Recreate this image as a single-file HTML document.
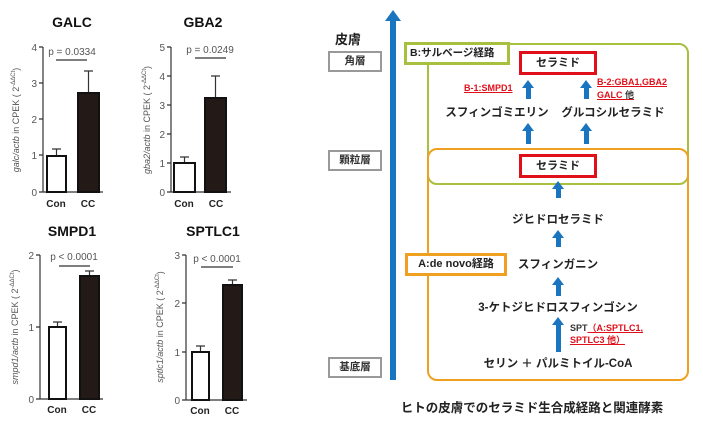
<!DOCTYPE html><html><head><meta charset="utf-8"><style>
body{margin:0;width:703px;height:428px;background:#fff;position:relative;overflow:hidden;font-family:"Liberation Sans","Noto Sans CJK JP",sans-serif}
.a{position:absolute;white-space:nowrap}
.t{font-weight:bold;color:#222;font-size:11.5px;transform:translateX(-50%)}
.lay{position:absolute;left:328px;width:50px;height:17px;border:2px solid #999;font-size:10.5px;font-weight:bold;text-align:center;line-height:17px;color:#333}
.red{position:absolute;left:519px;width:72px;height:18px;border:3px solid #e0101a;font-size:11px;font-weight:bold;text-align:center;line-height:18px;color:#222}
.ar{position:absolute;width:5px;background:#1a75c0}
.ar:before{content:"";position:absolute;left:-4px;top:-7px;border-left:6.5px solid transparent;border-right:6.5px solid transparent;border-bottom:8px solid #1a75c0}
.big:before{left:-5px;top:-10px;border-left:8px solid transparent;border-right:8px solid transparent;border-bottom:11px solid #1a75c0}
.r{color:#e0101a;text-decoration:underline;font-weight:bold;font-size:9px}
</style></head><body>
<svg width="320" height="428" style="position:absolute;left:0;top:0" font-family="Liberation Sans" fill="#333">
<g font-weight="bold" font-size="14" text-anchor="middle" fill="#111">
<text x="72" y="27">GALC</text><text x="203" y="27">GBA2</text><text x="72" y="236">SMPD1</text><text x="213" y="236">SPTLC1</text></g>
<g stroke="#333" stroke-width="1.2" fill="none">
<path d="M43 47V192H103M39 47H43M39 83H43M39 119H43M39 155H43M39 192H43"/>
<path d="M56 60H87M56.5 156V149M52 149H61M88.5 93V71M84 71H93"/>
<path d="M171 47V192H231M167 47H171M167 76H171M167 105H171M167 134H171M167 163H171M167 192H171"/>
<path d="M195 58H226M184.5 163V157M180 157H189M215.5 98V76M211 76H220"/>
<path d="M40 255V399H103M36 255H40M36 327H40M36 399H40"/>
<path d="M59 266H90M57.5 327V322M53 322H62M89.5 276V271M85 271H94"/>
<path d="M186 255V400H247M182 255H186M182 303H186M182 352H186M182 400H186"/>
<path d="M201 267H233M200.5 352V346M196 346H205M232.5 285V280M228 280H237"/>
</g>
<g stroke="#111" stroke-width="2">
<rect x="47" y="156" width="19" height="36" fill="#fff"/><rect x="78" y="93" width="21" height="99" fill="#231a17"/>
<rect x="174" y="163" width="21" height="29" fill="#fff"/><rect x="205" y="98" width="21" height="94" fill="#231a17"/>
<rect x="49" y="327" width="17" height="72" fill="#fff"/><rect x="80" y="276" width="19" height="123" fill="#231a17"/>
<rect x="192" y="352" width="17" height="48" fill="#fff"/><rect x="223" y="285" width="19" height="115" fill="#231a17"/>
</g>
<g font-size="10" text-anchor="end" fill="#555">
<text x="37" y="51">4</text><text x="37" y="87">3</text><text x="37" y="123">2</text><text x="37" y="159">1</text><text x="37" y="196">0</text>
<text x="165" y="51">5</text><text x="165" y="80">4</text><text x="165" y="109">3</text><text x="165" y="138">2</text><text x="165" y="167">1</text><text x="165" y="196">0</text>
<text x="34" y="259">2</text><text x="34" y="331">1</text><text x="34" y="403">0</text>
<text x="180" y="259">3</text><text x="180" y="307">2</text><text x="180" y="356">1</text><text x="180" y="404">0</text>
</g>
<g font-size="10" text-anchor="middle" fill="#555">
<text x="72" y="55">p = 0.0334</text><text x="210" y="53">p = 0.0249</text><text x="74" y="260">p &lt; 0.0001</text><text x="217" y="262">p &lt; 0.0001</text></g>
<g font-size="10" font-weight="bold" text-anchor="middle" fill="#222">
<text x="56" y="207">Con</text><text x="88" y="207">CC</text><text x="184" y="207">Con</text><text x="216" y="207">CC</text>
<text x="57" y="413">Con</text><text x="89" y="413">CC</text><text x="200" y="414">Con</text><text x="232" y="414">CC</text></g>
<g font-size="9" fill="#555" text-anchor="middle">
<text transform="translate(19,120) rotate(-90)"><tspan font-style="italic">galc/actb</tspan> in CPEK ( 2<tspan dy="-4" font-size="6">-ΔΔCt</tspan><tspan dy="4">)</tspan></text>
<text transform="translate(150,120) rotate(-90)"><tspan font-style="italic">gba2/actb</tspan> in CPEK ( 2<tspan dy="-4" font-size="6">-ΔΔCt</tspan><tspan dy="4">)</tspan></text>
<text transform="translate(18,327) rotate(-90)"><tspan font-style="italic">smpd1/actb</tspan> in CPEK ( 2<tspan dy="-4" font-size="6">-ΔΔCt</tspan><tspan dy="4">)</tspan></text>
<text transform="translate(163,327) rotate(-90)"><tspan font-style="italic">sptlc1/actb</tspan> in CPEK ( 2<tspan dy="-4" font-size="6">-ΔΔCt</tspan><tspan dy="4">)</tspan></text>
</g></svg>

<div class="ar big" style="left:390px;top:20px;height:360px;width:6px"></div>
<div class="a" style="left:335px;top:29px;font-size:13px;font-weight:bold;color:#222">皮膚</div>
<div class="lay" style="top:51px">角層</div>
<div class="lay" style="top:150px">顆粒層</div>
<div class="lay" style="top:357px">基底層</div>

<div class="a" style="left:427px;top:43px;width:258px;height:138px;border:2px solid #a8c040;border-radius:10px"></div>
<div class="a" style="left:427px;top:148px;width:258px;height:229px;border:2px solid #f0a020;border-radius:10px"></div>
<div class="a" style="left:404px;top:42px;width:97px;height:17px;border:3px solid #a8c040;background:#fff;font-size:10.5px;line-height:17px;padding-left:3px;color:#222;font-weight:bold">B:サルベージ経路</div>
<div class="a" style="left:405px;top:253px;width:96px;height:17px;border:3px solid #f0a020;background:#fff;font-size:11px;line-height:17px;text-align:center;color:#222;font-weight:bold">A:de novo経路</div>

<div class="red" style="top:51px">セラミド</div>
<div class="red" style="top:154px">セラミド</div>

<div class="ar" style="left:526px;top:87px;height:12px"></div>
<div class="ar" style="left:584px;top:87px;height:12px"></div>
<div class="ar" style="left:526px;top:130px;height:14px"></div>
<div class="ar" style="left:584px;top:130px;height:14px"></div>
<div class="a r" style="left:464px;top:83px">B-1:SMPD1</div>
<div class="a r" style="left:597px;top:76px;line-height:13px">B-2:GBA1,GBA2<br>GALC <span style="color:#333;text-decoration:none">他</span></div>
<div class="a t" style="left:497px;top:104px">スフィンゴミエリン</div>
<div class="a t" style="left:613px;top:104px">グルコシルセラミド</div>

<div class="ar" style="left:556px;top:188px;height:10px"></div>
<div class="a t" style="left:558px;top:211px">ジヒドロセラミド</div>
<div class="ar" style="left:556px;top:237px;height:10px"></div>
<div class="a t" style="left:558px;top:256px">スフィンガニン</div>
<div class="ar" style="left:556px;top:284px;height:12px"></div>
<div class="a t" style="left:558px;top:299px">3-ケトジヒドロスフィンゴシン</div>
<div class="ar" style="left:556px;top:324px;height:28px"></div>
<div class="a" style="left:570px;top:322px;font-size:9px;line-height:12px;font-weight:bold;color:#333">SPT<span class="r">（A:SPTLC1,</span><br><span class="r">SPTLC3 他）</span></div>
<div class="a t" style="left:558px;top:355px">セリン ＋ パルミトイル-CoA</div>
<div class="a t" style="left:532px;top:397px;font-size:12.5px">ヒトの皮膚でのセラミド生合成経路と関連酵素</div>
</body></html>
